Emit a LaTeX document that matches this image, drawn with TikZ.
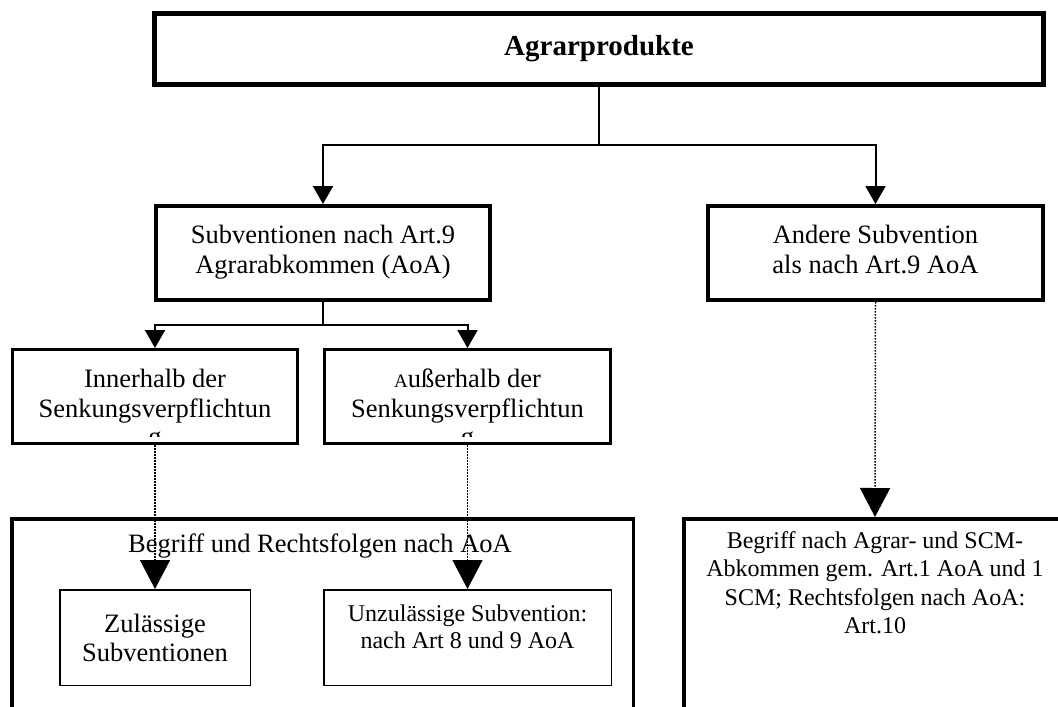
\documentclass[tikz,border=0pt]{standalone}
\usepackage{fontspec}
\setmainfont{Liberation Serif}
\usetikzlibrary{arrows.meta}
\newcommand\fsz[2]{\fontsize{#1}{#2}\selectfont}
\begin{document}
\begin{tikzpicture}[x=1pt, y=-1pt,
  box/.style={draw, line width=4pt, align=center, inner sep=0pt,
    font=\fsz{26.5}{30}},
  midbox/.style={box, line width=3.3pt, minimum height=93.7pt},
  bigbox/.style={draw, line width=3.5pt, inner sep=0pt},
  thinbox/.style={draw, line width=1.5pt, align=center, inner sep=0pt,
    minimum height=95.5pt},
  conn/.style={line width=2pt},
  solidtip/.style={-{Triangle[width=20pt,length=18pt]}},
  dotconn/.style={line width=1.5pt, dash pattern=on 1.5pt off 1.5pt,
    -{Triangle[width=30pt,length=29pt]}}
]
\useasboundingbox (0,0) rectangle (1058,707);
\fill[white] (0,0) rectangle (1058,707);
\clip (0,0) rectangle (1058,707);

% top level
\node[box, line width=5pt, minimum width=889pt, minimum height=71pt,
  font=\fsz{29}{33}\bfseries] (top) at (599,49) {Agrarprodukte};

% second level
\node[box, minimum width=334pt, minimum height=94pt] (sub9) at (323,253)
  {Subventionen nach Art.9\\Agrarabkommen (AoA)\rule[-8pt]{0pt}{8pt}};
\node[box, minimum width=335pt, minimum height=94pt] (other) at (875.5,253)
  {Andere Subvention\\als nach Art.9 AoA\rule[-8pt]{0pt}{8pt}};

% third level
\node[midbox, minimum width=284.7pt] (inner) at (155,396.5)
  {Innerhalb der\\Senkungsverpflichtun};
\node[midbox, minimum width=285.7pt] (outer) at (467.5,396.5)
  {{\fsz{19}{30}A}u\ss erhalb der\\Senkungsverpflichtun};

% wrapped last letters, cut off at the box edges
\begin{scope}
  \clip (13,350) rectangle (297,436);
  \node[anchor=base, inner sep=0pt, font=\fsz{26.5}{30}] (innerg) at (155,445) {g};
\end{scope}
\begin{scope}
  \clip (325,350) rectangle (610,436);
  \node[anchor=base, inner sep=0pt, font=\fsz{26.5}{30}] (outerg) at (467.5,445) {g};
\end{scope}

% bottom frames (running past the lower edge)
\node[bigbox, minimum width=621.5pt, minimum height=241.5pt] (bigL) at (322.5,639.5) {};
\node[bigbox, minimum width=382.5pt, minimum height=241.5pt] (bigR) at (875,639.5) {};

\node[anchor=base, inner sep=0pt, font=\fsz{26.5}{30}] (bigLtxt) at (320,552)
  {Begriff und Rechtsfolgen nach AoA};
\node[anchor=north, align=center, inner sep=0pt, font=\fsz{24}{28.3}] (bigRtxt)
  at (875,531.5)
  {Begriff nach Agrar- und SCM-\\Abkommen gem. Art.1 AoA und 1\\SCM; Rechtsfolgen nach AoA:\\Art.10};

\node[thinbox, minimum width=190.5pt, font=\fsz{26.5}{29}] (zul) at (155,637.5)
  {Zul\"assige\\Subventionen};
\node[thinbox, minimum width=287.5pt, font=\fsz{24}{27}] (unz) at (467.5,637.5)
  {Unzul\"assige Subvention:\\nach Art 8 und 9 AoA\rule[-21pt]{0pt}{21pt}};

% connectors
\coordinate (bus1) at (599,145);
\coordinate (bus2) at (323,325);
\draw[conn] (top.south) -- (bus1);
\draw[conn, solidtip] (bus1) -| (sub9.north);
\draw[conn, solidtip] (bus1) -| (other.north);
\draw[conn] (sub9.south) -- (bus2);
\draw[conn, solidtip] (bus2) -| (inner.north);
\draw[conn, solidtip] (bus2) -| (outer.north);

\draw[dotconn] (inner.south) -- (zul.north);
\draw[dotconn] (outer.south) -- (unz.north);
\draw[dotconn] (other.south) -- (bigR.north);
\end{tikzpicture}
\end{document}
